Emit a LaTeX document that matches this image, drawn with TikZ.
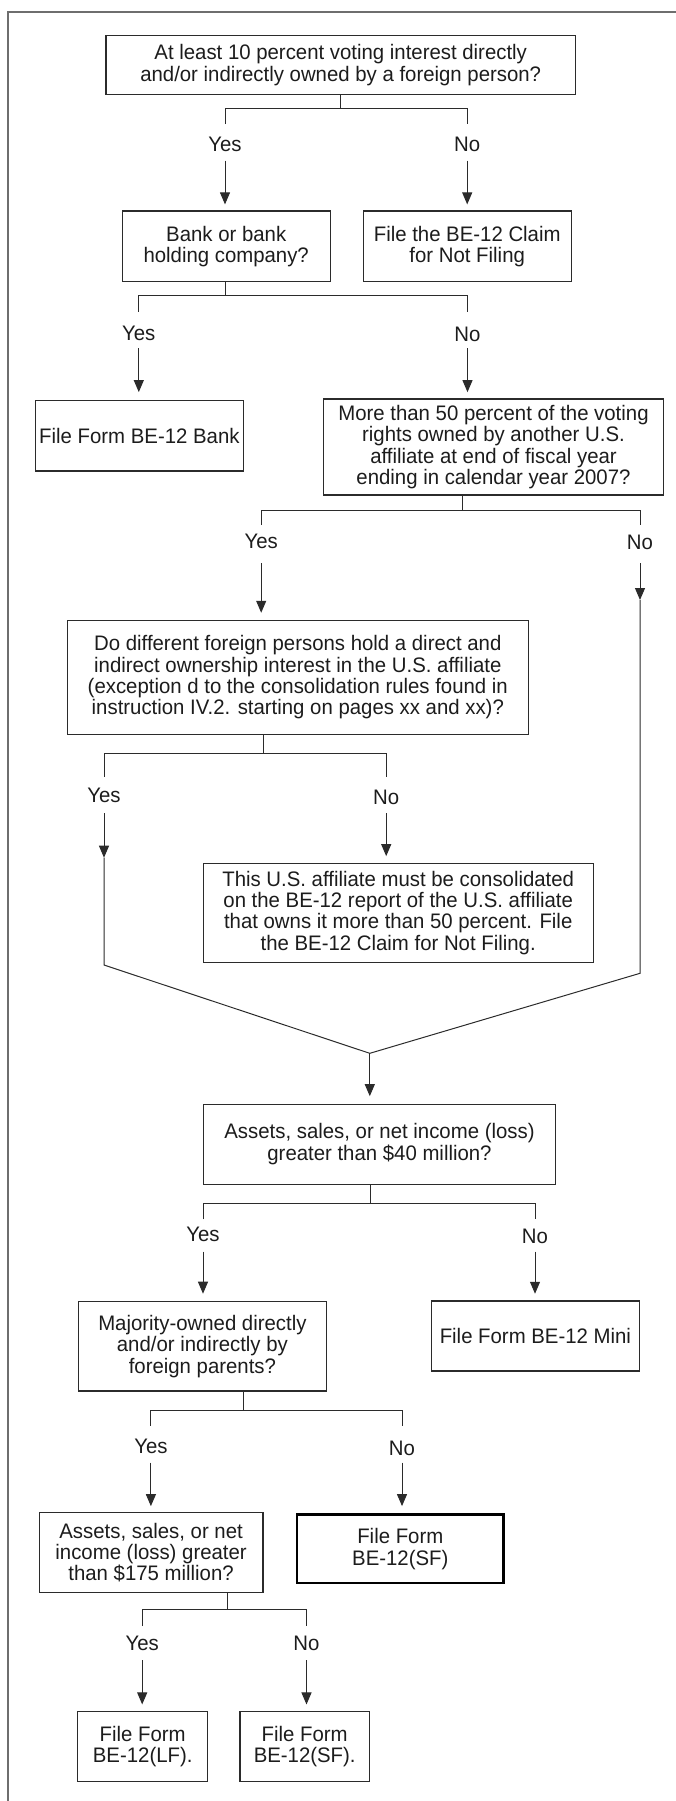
\documentclass[tikz,border=0pt]{standalone}
\usepackage{fontspec}
\setmainfont[FakeStretch=0.97]{Liberation Sans}
\usetikzlibrary{arrows.meta,calc}
\definecolor{boxline}{HTML}{2B2B2B}
\definecolor{frameline}{HTML}{6E6E6E}
\definecolor{txt}{HTML}{1C1C1C}
\begin{document}
\begin{tikzpicture}[x=1pt,y=-1pt,
  box/.style={draw=boxline, line width=1.1pt, align=center, inner sep=0pt, text=txt,
              font=\fontsize{21}{21.3}\selectfont},
  thickbox/.style={box, draw=black, line width=2.3pt},
  lbl/.style={anchor=base, inner sep=0pt, text=txt, font=\fontsize{21}{21.3}\selectfont},
  conn/.style={draw=boxline, line width=1pt},
  arr/.style={conn, -{Triangle[length=12pt,width=10pt]}},
]
\useasboundingbox (0,0) rectangle (676,1801);
% outer frame (right and bottom sides fall outside the picture)
\draw[frameline, line width=1.8pt] (7.6,1810) -- (7.6,11.7) -- (690,11.7);

% ---------- boxes ----------
\node[box, minimum width=469.4pt, minimum height=58.6pt] (q1) at (340.7,65)
  {At least 10 percent voting interest directly\\and/or indirectly owned by a foreign person?};
\node[box, minimum width=207.8pt, minimum height=70.7pt] (bank) at (226.2,246.3)
  {Bank or bank\\holding company?};
\node[box, minimum width=207.7pt, minimum height=70.7pt] (claim1) at (467.2,246.3)
  {File the BE-12 Claim\\for Not Filing};
\node[box, minimum width=208.2pt, minimum height=70.3pt] (bankform) at (139.4,435.8)
  {File Form BE-12 Bank};
\node[box, minimum width=340.5pt, minimum height=96pt] (q3) at (493.5,447)
  {More than 50 percent of the voting\\rights owned by another U.S.\\affiliate at end of fiscal year\\ending in calendar year 2007?};
\node[box, minimum width=461.2pt, minimum height=113.6pt] (q4) at (297.8,677.5)
  {Do different foreign persons hold a direct and\\indirect ownership interest in the U.S. affiliate\\(exception d to the consolidation rules found in\\instruction IV.2. starting on pages xx and xx)?};
\node[box, minimum width=389.7pt, minimum height=99pt] (q5) at (398.2,912.8)
  {This U.S. affiliate must be consolidated\\on the BE-12 report of the U.S. affiliate\\that owns it more than 50 percent. File\\the BE-12 Claim for Not Filing.};
\node[box, minimum width=352.2pt, minimum height=79.7pt] (q6) at (379.5,1144.2)
  {Assets, sales, or net income (loss)\\greater than \$40 million?};
\node[box, minimum width=248.7pt, minimum height=89.3pt] (q7) at (202.4,1346.3)
  {Majority-owned directly\\and/or indirectly by\\foreign parents?};
\node[box, minimum width=207.7pt, minimum height=70pt] (mini) at (535.4,1336)
  {File Form BE-12 Mini};
\node[box, minimum width=223.8pt, minimum height=80pt] (q8) at (151.1,1552.7)
  {Assets, sales, or net\\income (loss) greater\\than \$175 million?};
\node[thickbox, minimum width=206.3pt, minimum height=68.7pt] (sf) at (400.3,1548.9)
  {File Form\\BE-12(SF)};
\node[box, minimum width=130.2pt, minimum height=70pt] (lf) at (142.7,1746.7)
  {File Form\\BE-12(LF).};
\node[box, minimum width=129.4pt, minimum height=70pt] (sf2) at (304.7,1746.7)
  {File Form\\BE-12(SF).};

% ---------- labels ----------
\node[lbl] (l1y) at (225,151) {Yes};
\node[lbl] (l1n) at (467.2,151.8) {No};
\node[lbl] (l2y) at (138.8,340.5) {Yes};
\node[lbl] (l2n) at (467.5,341.5) {No};
\node[lbl] (l3y) at (261.2,548.3) {Yes};
\node[lbl] (l3n) at (640,549.3) {No};
\node[lbl] (l4y) at (104,802.7) {Yes};
\node[lbl] (l4n) at (386.2,804.3) {No};
\node[lbl] (l6y) at (203,1241.7) {Yes};
\node[lbl] (l6n) at (535,1243.3) {No};
\node[lbl] (l7y) at (150.9,1453.3) {Yes};
\node[lbl] (l7n) at (402,1455) {No};
\node[lbl] (l8y) at (142.2,1650) {Yes};
\node[lbl] (l8n) at (306.5,1650) {No};

% ---------- q1 ----------
\draw[conn] (q1.south) -- (q1.south |- 0,108.3);
\draw[conn] (l1y.south |- 0,124) -- (l1y.south |- 0,108.3) -- (l1n.south |- 0,108.3) -- (l1n.south |- 0,124);
\draw[arr, shorten >=6pt] (l1y.south |- 0,160.7) -- (bank.north -| l1y.south);
\draw[arr, shorten >=6pt] (l1n.south |- 0,160.7) -- (claim1.north -| l1n.south);

% ---------- bank ----------
\draw[conn] (bank.south -| l1y.south) -- (l1y.south |- 0,295.7);
\draw[conn] (l2y.south |- 0,311.7) -- (l2y.south |- 0,295.7) -- (l2n.south |- 0,295.7) -- (l2n.south |- 0,311.7);
\draw[arr, shorten >=8pt] (l2y.south |- 0,348.3) -- (bankform.north -| l2y.south);
\draw[arr, shorten >=6.3pt] (l2n.south |- 0,348.3) -- (q3.north -| l2n.south);

% ---------- q3 ----------
\draw[conn] (q3.south -| 462,0) -- (462,510);
\draw[conn] (l3y.south |- 0,525) -- (l3y.south |- 0,510) -- (l3n.south |- 0,510) -- (l3n.south |- 0,525);
\draw[arr, shorten >=7.4pt] (l3y.south |- 0,563.3) -- (q4.north -| l3y.south);
\coordinate (rtip) at (l3n.south |- 0,600);
\coordinate (rbend) at (l3n.south |- 0,973.3);
\coordinate (merge) at (369.8,1053.3);
\draw[arr] (l3n.south |- 0,563.3) -- (rtip);
\draw[conn] (rtip) -- (rbend) -- (merge);

% ---------- q4 ----------
\draw[conn] (q4.south -| 263.8,0) -- (263.8,753.3);
\draw[conn] (l4y.south |- 0,776.7) -- (l4y.south |- 0,753.3) -- (l4n.south |- 0,753.3) -- (l4n.south |- 0,776.7);
\draw[arr, shorten >=6.6pt] (l4n.south |- 0,813.3) -- (q5.north -| l4n.south);
\coordinate (ltip) at (l4y.south |- 0,857.7);
\coordinate (lbend) at (l4y.south |- 0,965);
\draw[arr] (l4y.south |- 0,813.3) -- (ltip);
\draw[conn] (ltip) -- (lbend) -- (merge);

% ---------- merge to q6 ----------
\draw[arr, shorten >=7.6pt] (merge) -- (q6.north -| merge);

% ---------- q6 ----------
\draw[conn] (q6.south -| 370.7,0) -- (370.7,1203.3);
\draw[conn] (l6y.south |- 0,1219.3) -- (l6y.south |- 0,1203.3) -- (l6n.south |- 0,1203.3) -- (l6n.south |- 0,1219.3);
\draw[arr, shorten >=7.4pt] (l6y.south |- 0,1251.7) -- (q7.north -| l6y.south);
\draw[arr, shorten >=6.7pt] (l6n.south |- 0,1251.7) -- (mini.north -| l6n.south);

% ---------- q7 ----------
\draw[conn] (q7.south -| 243.5,0) -- (243.5,1410);
\draw[conn] (l7y.south |- 0,1425.7) -- (l7y.south |- 0,1410) -- (l7n.south |- 0,1410) -- (l7n.south |- 0,1425.7);
\draw[arr, shorten >=6pt] (l7y.south |- 0,1462.7) -- (q8.north -| l7y.south);
\draw[arr, shorten >=7.3pt] (l7n.south |- 0,1462.7) -- (sf.north -| l7n.south);

% ---------- q8 ----------
\draw[conn] (q8.south -| 227.6,0) -- (227.6,1609.3);
\draw[conn] (l8y.south |- 0,1626) -- (l8y.south |- 0,1609.3) -- (l8n.south |- 0,1609.3) -- (l8n.south |- 0,1626);
\draw[arr, shorten >=6.7pt] (l8y.south |- 0,1660) -- (lf.north -| l8y.south);
\draw[arr, shorten >=6.7pt] (l8n.south |- 0,1660) -- (sf2.north -| l8n.south);
\end{tikzpicture}
\end{document}
